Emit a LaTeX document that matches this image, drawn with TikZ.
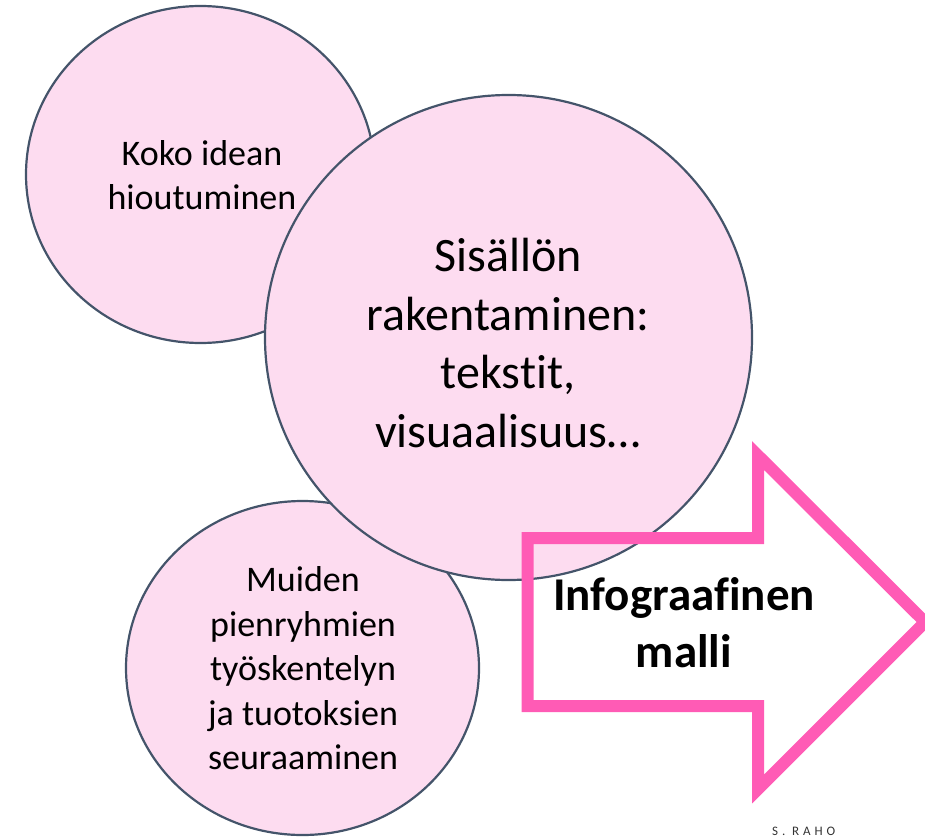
\documentclass[tikz,border=0pt]{standalone}
\usepackage{fontspec}
\setmainfont[Ligatures=NoCommon]{Carlito}
\newfontfamily\stampfont[LetterSpace=30,Ligatures=NoCommon]{Carlito}
\usetikzlibrary{shapes.geometric}
\definecolor{bubblefill}{HTML}{FDDCF0}
\definecolor{bubbleline}{HTML}{44546A}
\definecolor{arrowpink}{HTML}{FF5BB5}
\begin{document}
\begin{tikzpicture}[x=1pt,y=-1pt,
  bubble/.style={ellipse, fill=bubblefill, draw=bubbleline, line width=2.2pt, inner sep=0pt},
  smalltext/.style={align=center, inner sep=0pt, font=\fontsize{36}{44.5}\selectfont},
  bigtext/.style={align=center, inner sep=0pt, font=\fontsize{48}{58.5}\selectfont},
  arrowtext/.style={align=center, inner sep=0pt, font=\bfseries\fontsize{47}{57}\selectfont},
  arrowline/.style={draw=arrowpink, line width=12pt, line join=miter}]
\useasboundingbox (0,0) rectangle (925,837);
\clip (0,0) rectangle (925,837);
% bubbles
\node[bubble, minimum width=349pt, minimum height=337pt] (b1) at (200.5,174.5) {};
\node[bubble, minimum width=353pt, minimum height=334pt] (b3) at (302.5,668) {};
\node[bubble, minimum width=487pt, minimum height=485pt] (b2) at (508.5,337.5) {};
% texts
\node[smalltext] (t1) at (202,175) {Koko idean\\hioutuminen};
\node[bigtext] (t2) at (508,343) {Sisällön\\rakentaminen:\\tekstit,\\visuaalisuus…};
\node[smalltext] (t3) at (303,668.5) {Muiden\\pienryhmien\\työskentelyn\\ja tuotoksien\\seuraaminen};
% arrow
\draw[arrowline] (527.5,538) -- (758,538) -- (758,455.5) -- (925,622) -- (758,789) -- (758,706) -- (527.5,706) -- cycle;
\node[arrowtext] (t4) at (684,622.5) {Infograafinen\\malli};
% stamp
\node[anchor=base west, inner sep=0pt, font=\stampfont\fontsize{13}{13}\selectfont, text=black!80] (st) at (772,835.5) {S. RAHO};
\end{tikzpicture}
\end{document}
